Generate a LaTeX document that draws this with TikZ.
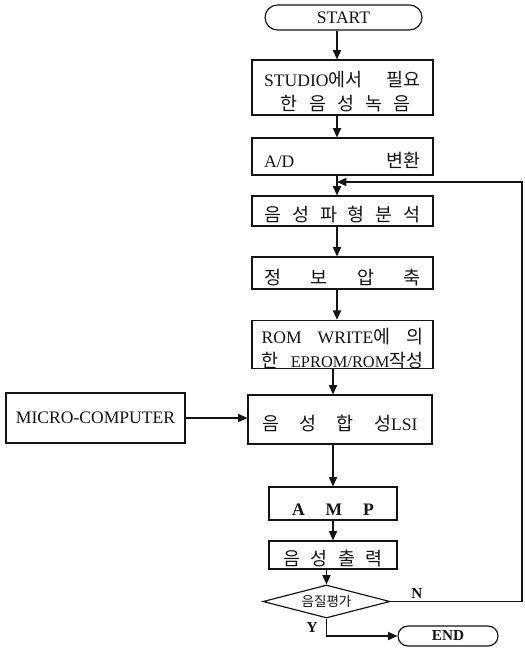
\documentclass[tikz,border=0pt]{standalone}
\usepackage{fontspec}
\setmainfont{Liberation Serif}
\newfontfamily\hgfont[Scale=1.05]{Noto Sans CJK KR}
\usetikzlibrary{arrows.meta,shapes.misc,shapes.geometric}
\newcommand{\hg}[1]{{\hgfont #1}}
\newcommand{\spreadrow}[1]{\par\hbox to\hsize{#1}\par}
\definecolor{inkblack}{RGB}{20,20,20}
\tikzset{
  flowbox/.style={draw=inkblack, line width=1pt, rectangle, inner sep=0pt, align=center, text=inkblack, font=\fontsize{15}{20}\selectfont},
  termbox/.style={flowbox, rounded rectangle},
  testbox/.style={draw=inkblack, line width=1pt, diamond, aspect=3.85, inner sep=0pt, text=inkblack, font=\fontsize{11}{13}\selectfont},
  flowline/.style={inkblack, line width=1.1pt, -{Triangle[length=8pt,width=7pt]}},
  branchlbl/.style={font=\bfseries\fontsize{13}{15}\selectfont, text=inkblack}
}

\begin{document}
\begin{tikzpicture}[x=0.03cm,y=-0.03cm]
  \useasboundingbox (0,0) rectangle (524,648);
  \def\mainw{5.43cm}
  \def\mainin{4.7cm}

  % start
  \node[termbox, minimum width=4.71cm, minimum height=0.75cm] (start) at (343.5,17.5) {START};

  % processing chain
  \node[flowbox, minimum width=\mainw, minimum height=1.65cm, text width=\mainin] (studio) at (342.5,87.5)
    {\spreadrow{STUDIO\hg{에서}\hfill\hg{필요}}\spreadrow{\hspace{0.5cm}\hg{한\hfill 음\hfill 성\hfill 녹\hfill 음}\hspace{0.3cm}}};
  \node[flowbox, minimum width=\mainw, minimum height=1.11cm, text width=\mainin] (adconv) at (342.5,156.5)
    {\spreadrow{A/D\hfill\hg{변환}}};
  \node[flowbox, minimum width=\mainw, minimum height=0.9cm, text width=\mainin] (wave) at (342.5,211)
    {\spreadrow{\hg{음\hfill 성\hfill 파\hfill 형\hfill 분\hfill 석}}};
  \node[flowbox, minimum width=\mainw, minimum height=0.96cm, text width=\mainin] (pack) at (342.5,273)
    {\spreadrow{\hg{정\hfill 보\hfill 압\hfill 축}}};
  \node[flowbox, minimum width=\mainw, minimum height=1.41cm, text width=4.85cm] (romw) at (342.5,344.5)
    {\spreadrow{ROM\hfill WRITE\hg{에}\hfill\hg{의}}\spreadrow{\hg{한}\hspace{0.25em}\hfill{\fontsize{14}{20}\selectfont EPROM/ROM}\hg{작성}}};

  % synthesis
  \node[flowbox, minimum width=5.37cm, minimum height=1.5cm] (micro) at (95.5,418) {MICRO-COMPUTER};
  \node[flowbox, minimum width=5.52cm, minimum height=1.47cm, text width=4.65cm] (lsi) at (340,419.5)
    {\spreadrow{\hg{음\hfill 성\hfill 합\hfill 성}LSI}};
  \node[flowbox, minimum width=3.84cm, minimum height=0.99cm, text width=2.45cm, font=\bfseries\fontsize{15}{20}\selectfont] (amp) at (333,503.5)
    {\spreadrow{A\hfill M\hfill P}};
  \node[flowbox, minimum width=3.84cm, minimum height=0.84cm, text width=2.95cm] (voice) at (333,555)
    {\spreadrow{\hg{음\hfill 성\hfill 출\hfill 력}}};

  % evaluation
  \node[testbox, minimum width=3.81cm, minimum height=0.99cm] (check) at (326.5,601.5) {\hg{음질평가}};
  \node[termbox, minimum width=3.0cm, minimum height=0.6cm, font=\bfseries\fontsize{13}{15}\selectfont] (finish) at (448,636) {END};

  % connectors
  \coordinate (spine) at (337,0);
  \coordinate (rejoin) at (337,182);
  \coordinate (loopturn) at (522,182);
  \draw[flowline] (start.south -| spine) -- (studio.north -| spine);
  \draw[flowline] (studio.south -| spine) -- (adconv.north -| spine);
  \draw[flowline] (adconv.south -| spine) -- (wave.north -| spine);
  \draw[flowline] (wave.south -| spine) -- (pack.north -| spine);
  \draw[flowline] (pack.south -| spine) -- (romw.north -| spine);
  \draw[flowline] (romw.south -| amp) -- (lsi.north -| amp);
  \draw[flowline] (micro.east) -- (micro.east -| lsi.west);
  \draw[flowline] (lsi.south -| amp) -- (amp.north);
  \draw[flowline] (amp) -- (voice);
  \draw[flowline] (voice.south -| check) -- (check.north);

  % N : back to analysis
  \draw[flowline] (check.east) -| node[branchlbl, pos=0.1, above, inner sep=2pt] {N} (loopturn) -- (rejoin);
  % Y : end
  \draw[flowline] (check.south) |- node[branchlbl, pos=0.25, left, inner sep=7pt] {Y} (finish.west);
\end{tikzpicture}
\end{document}
